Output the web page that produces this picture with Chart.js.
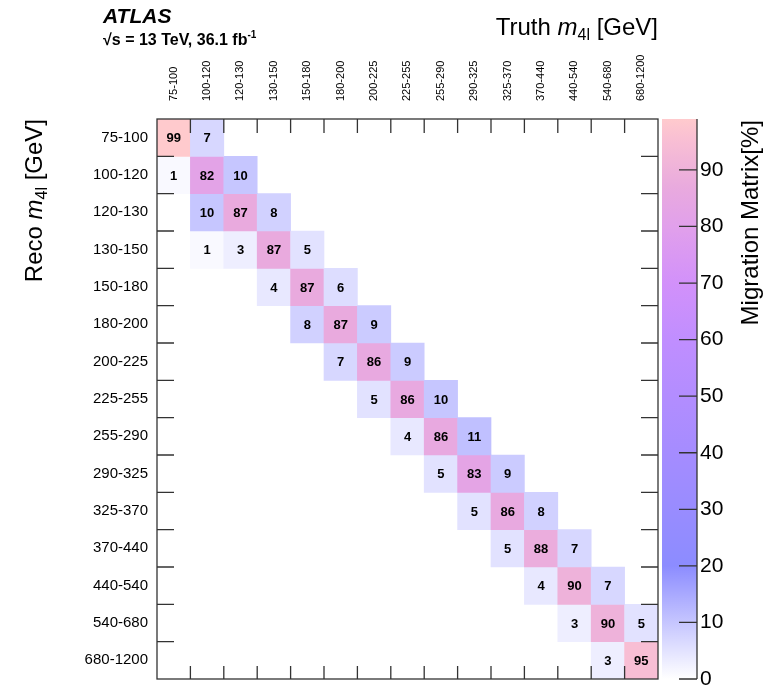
<!DOCTYPE html>
<html>
<head>
<meta charset="utf-8">
<script src="https://cdn.jsdelivr.net/npm/chart.js@4.4.1/dist/chart.umd.min.js"></script>
<style>
  html, body { margin: 0; padding: 0; background: #fff; }
</style>
</head>
<body>
<canvas id="migChart" width="771" height="697"></canvas>
<script>
// bins (GeV)
const truthBins = ['75-100', '100-120', '120-130', '130-150', '150-180', '180-200', '200-225', '225-255',
                   '255-290', '290-325', '325-370', '370-440', '440-540', '540-680', '680-1200'];
const recoBins = truthBins.slice();

// migration[reco][truth] in %, null = empty cell
const _ = null;
const migration = [
  [99,  7,  _,  _,  _,  _,  _,  _,  _,  _,  _,  _,  _,  _,  _],
  [ 1, 82, 10,  _,  _,  _,  _,  _,  _,  _,  _,  _,  _,  _,  _],
  [ _, 10, 87,  8,  _,  _,  _,  _,  _,  _,  _,  _,  _,  _,  _],
  [ _,  1,  3, 87,  5,  _,  _,  _,  _,  _,  _,  _,  _,  _,  _],
  [ _,  _,  _,  4, 87,  6,  _,  _,  _,  _,  _,  _,  _,  _,  _],
  [ _,  _,  _,  _,  8, 87,  9,  _,  _,  _,  _,  _,  _,  _,  _],
  [ _,  _,  _,  _,  _,  7, 86,  9,  _,  _,  _,  _,  _,  _,  _],
  [ _,  _,  _,  _,  _,  _,  5, 86, 10,  _,  _,  _,  _,  _,  _],
  [ _,  _,  _,  _,  _,  _,  _,  4, 86, 11,  _,  _,  _,  _,  _],
  [ _,  _,  _,  _,  _,  _,  _,  _,  5, 83,  9,  _,  _,  _,  _],
  [ _,  _,  _,  _,  _,  _,  _,  _,  _,  5, 86,  8,  _,  _,  _],
  [ _,  _,  _,  _,  _,  _,  _,  _,  _,  _,  5, 88,  7,  _,  _],
  [ _,  _,  _,  _,  _,  _,  _,  _,  _,  _,  _,  4, 90,  7,  _],
  [ _,  _,  _,  _,  _,  _,  _,  _,  _,  _,  _,  _,  3, 90,  5],
  [ _,  _,  _,  _,  _,  _,  _,  _,  _,  _,  _,  _,  _,  3, 95]
];

const colorbarTicks = [0, 10, 20, 30, 40, 50, 60, 70, 80, 90];
const colorbarMax = 99;

// palette (value -> rgb), ROOT-like white -> blue -> violet -> pink
const palette = [
  [0,  [255, 255, 255]],
  [20, [140, 140, 255]],
  [40, [165, 140, 255]],
  [60, [192, 142, 255]],
  [70, [210, 145, 250]],
  [80, [225, 160, 235]],
  [87, [233, 170, 222]],
  [90, [238, 178, 218]],
  [95, [248, 190, 212]],
  [99, [255, 202, 205]]
];

function colorFor(v) {
  for (let i = 1; i < palette.length; i++) {
    const [v0, c0] = palette[i - 1], [v1, c1] = palette[i];
    if (v <= v1) {
      const t = (v - v0) / (v1 - v0);
      const c = c0.map((a, k) => Math.round(a + (c1[k] - a) * t));
      return 'rgb(' + c.join(',') + ')';
    }
  }
  return 'rgb(' + palette[palette.length - 1][1].join(',') + ')';
}

const FONT = "'Liberation Sans', Arial, Helvetica, sans-serif";

// one floating-bar dataset per reco row
const datasets = recoBins.map((bin, r) => ({
  label: bin,
  data: migration[r].map(v => (v == null ? null : [r, r + 1])),
  backgroundColor: migration[r].map(v => (v == null ? 'rgba(0,0,0,0)' : colorFor(v))),
  borderWidth: 0,
  grouped: false,
  barPercentage: 1,
  categoryPercentage: 1
}));

function drawRich(ctx, parts, x, y, align) {
  let w = 0;
  parts.forEach(p => { ctx.font = p.font; w += ctx.measureText(p.t).width; });
  let cx = align === 'right' ? x - w : x;
  ctx.textAlign = 'left';
  ctx.textBaseline = 'alphabetic';
  parts.forEach(p => {
    ctx.font = p.font;
    ctx.fillText(p.t, cx, y + (p.dy || 0));
    cx += ctx.measureText(p.t).width;
  });
}

const axisTitle = (word) => [
  { t: word + ' ', font: '24px ' + FONT },
  { t: 'm', font: 'italic 24px ' + FONT },
  { t: '4l', font: '16px ' + FONT, dy: 5 },
  { t: ' [GeV]', font: '24px ' + FONT }
];

const rootStyle = {
  id: 'rootStyle',
  afterDatasetsDraw(chart) {
    const ctx = chart.ctx;
    const area = chart.chartArea;
    const xs = chart.scales.x, ys = chart.scales.y;

    // cell values
    ctx.save();
    ctx.fillStyle = '#000';
    ctx.font = 'bold 13px ' + FONT;
    ctx.textAlign = 'center';
    ctx.textBaseline = 'middle';
    chart.data.datasets.forEach((ds, r) => {
      const meta = chart.getDatasetMeta(r);
      meta.data.forEach((el, c) => {
        const v = migration[r][c];
        if (v == null) return;
        ctx.fillText(String(v), el.x, (el.y + el.base) / 2 + 1);
      });
    });
    ctx.restore();

    // frame and inward ticks
    ctx.save();
    ctx.strokeStyle = '#333';
    ctx.lineWidth = 1.3;
    ctx.strokeRect(area.left, area.top, area.right - area.left, area.bottom - area.top);
    ctx.beginPath();
    for (let k = 1; k < recoBins.length; k++) {
      const py = ys.getPixelForValue(k);
      ctx.moveTo(area.left, py); ctx.lineTo(area.left + 17, py);
      ctx.moveTo(area.right, py); ctx.lineTo(area.right - 17, py);
    }
    for (let k = 1; k < truthBins.length; k++) {
      const px = (xs.getPixelForValue(k - 1) + xs.getPixelForValue(k)) / 2;
      ctx.moveTo(px, area.top); ctx.lineTo(px, area.top + 14);
      ctx.moveTo(px, area.bottom); ctx.lineTo(px, area.bottom - 13);
    }
    ctx.stroke();
    ctx.restore();
  },
  afterDraw(chart) {
    const ctx = chart.ctx;
    const area = chart.chartArea;
    const cb = chart.scales.cb;

    // colour bar
    const x0 = cb.left + 4, x1 = cb.left + 39;
    const yTop = cb.getPixelForValue(colorbarMax), yBot = cb.getPixelForValue(0);
    ctx.save();
    const g = ctx.createLinearGradient(0, yBot, 0, yTop);
    palette.forEach(([v]) => g.addColorStop(v / colorbarMax, colorFor(v)));
    ctx.fillStyle = g;
    ctx.fillRect(x0, yTop, x1 - x0, yBot - yTop);
    ctx.strokeStyle = '#333';
    ctx.lineWidth = 1.3;
    ctx.beginPath();
    ctx.moveTo(x1, yTop); ctx.lineTo(x1, yBot);
    colorbarTicks.forEach(v => {
      const py = cb.getPixelForValue(v);
      ctx.moveTo(x1, py); ctx.lineTo(x1 - 18, py);
    });
    ctx.stroke();

    // colour bar title
    ctx.fillStyle = '#000';
    ctx.translate(758, area.top + 1);
    ctx.rotate(-Math.PI / 2);
    ctx.font = '24px ' + FONT;
    ctx.textAlign = 'right';
    ctx.textBaseline = 'alphabetic';
    ctx.fillText('Migration Matrix[%]', 0, 0);
    ctx.restore();

    // axis titles
    ctx.save();
    ctx.fillStyle = '#000';
    drawRich(ctx, axisTitle('Truth'), area.right, 35, 'right');
    ctx.translate(42, area.top);
    ctx.rotate(-Math.PI / 2);
    drawRich(ctx, axisTitle('Reco'), 0, 0, 'right');
    ctx.restore();

    // ATLAS label
    ctx.save();
    ctx.fillStyle = '#000';
    drawRich(ctx, [{ t: 'ATLAS', font: 'italic bold 21px ' + FONT }], 103, 23, 'left');
    drawRich(ctx, [
      { t: '\u221As = 13 TeV, 36.1 fb', font: 'bold 16px ' + FONT },
      { t: '-1', font: 'bold 10px ' + FONT, dy: -7 }
    ], 103, 45, 'left');
    ctx.restore();
  }
};

new Chart(document.getElementById('migChart'), {
  type: 'bar',
  data: { labels: truthBins, datasets: datasets },
  options: {
    responsive: false,
    animation: false,
    layout: { padding: { top: 0, left: 0, right: 0, bottom: 10 } },
    plugins: { legend: { display: false }, tooltip: { enabled: false } },
    scales: {
      x: {
        type: 'category',
        position: 'top',
        offset: true,
        grid: { display: false, drawTicks: false },
        border: { display: false },
        ticks: {
          minRotation: 90, maxRotation: 90, autoSkip: false,
          padding: 18, labelOffset: 13, color: '#000',
          font: { family: FONT, size: 11 }
        },
        afterFit(scale) { scale.height = 119; }
      },
      y: {
        type: 'linear',
        reverse: true,
        min: 0,
        max: recoBins.length,
        grid: { display: false, drawTicks: false },
        border: { display: false },
        afterBuildTicks(scale) { scale.ticks = recoBins.map((b, i) => ({ value: i + 0.5 })); },
        ticks: {
          autoSkip: false, padding: 9, color: '#000',
          font: { family: FONT, size: 15 },
          callback: (v, i) => recoBins[i]
        },
        afterFit(scale) { scale.width = 157; }
      },
      cb: {
        type: 'linear',
        position: 'right',
        min: 0,
        max: colorbarMax,
        grid: { display: true, drawOnChartArea: false, drawTicks: true, tickLength: 38, color: 'rgba(0,0,0,0)' },
        border: { display: false },
        afterBuildTicks(scale) { scale.ticks = colorbarTicks.map(v => ({ value: v })); },
        ticks: {
          autoSkip: false, padding: 4, color: '#000',
          font: { family: FONT, size: 21, lineHeight: 0.9 },
          callback: v => String(v)
        },
        afterFit(scale) { scale.width = 771 - 658; }
      }
    }
  },
  plugins: [rootStyle]
});
</script>
</body>
</html>
